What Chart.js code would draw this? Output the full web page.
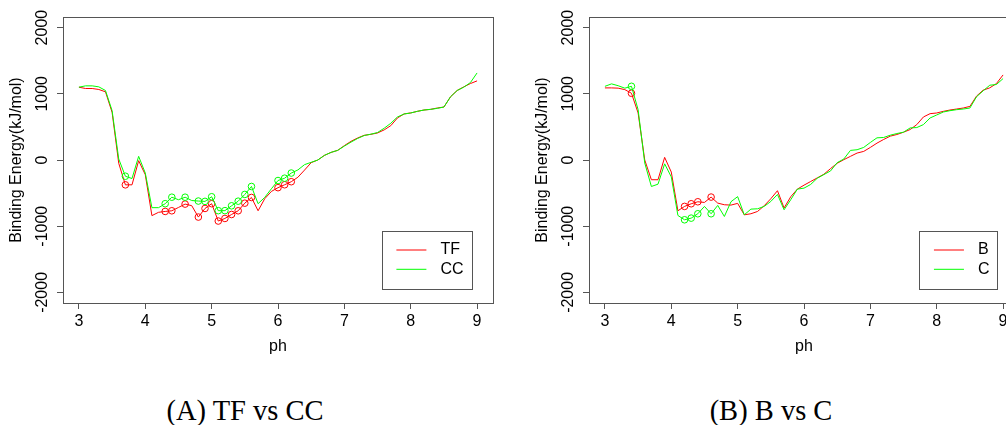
<!DOCTYPE html>
<html>
<head>
<meta charset="utf-8">
<script src="https://cdn.jsdelivr.net/npm/chart.js@4/dist/chart.umd.min.js"></script>
<style>
  html, body { margin: 0; padding: 0; background: #fff; }
  #page { position: relative; width: 1006px; height: 425px; overflow: hidden; background: #fff; }
  canvas { position: absolute; top: 0; }
  #cvA { left: 0; }
  #cvB { left: 526px; }
  .caption { position: absolute; top: 397px; width: 400px; text-align: center;
             font-family: "Liberation Serif", "DejaVu Serif", serif; font-size: 28.5px;
             line-height: 28.5px; color: #000; white-space: nowrap; }
  #capA { left: 45px; }
  #capB { left: 571px; }
</style>
</head>
<body>
<div id="page">
  <canvas id="cvA" width="500" height="370"></canvas>
  <canvas id="cvB" width="500" height="370"></canvas>
  <div class="caption" id="capA">(A) TF vs CC</div>
  <div class="caption" id="capB">(B) B vs C</div>
</div>
<script>
// pH grid shared by every series
const ph = [3.0, 3.1, 3.2, 3.3, 3.4, 3.5, 3.6, 3.7, 3.8, 3.9,
            4.0, 4.1, 4.2, 4.3, 4.4, 4.5, 4.6, 4.7, 4.8, 4.9,
            5.0, 5.1, 5.2, 5.3, 5.4, 5.5, 5.6, 5.7, 5.8, 5.9,
            6.0, 6.1, 6.2, 6.3, 6.4, 6.5, 6.6, 6.7, 6.8, 6.9,
            7.0, 7.1, 7.2, 7.3, 7.4, 7.5, 7.6, 7.7, 7.8, 7.9,
            8.0, 8.1, 8.2, 8.3, 8.4, 8.5, 8.6, 8.7, 8.8, 8.9, 9.0];

// Binding energy (kJ/mol), panel A
const tf = [1100, 1080, 1080, 1065, 1030, 720, -50, -375, -375, -10,
            -222, -840, -790, -777, -767, -717, -666, -690, -862, -732,
            -660, -922, -883, -823, -767, -652, -566, -767, -585, -475,
            -418, -374, -328, -260, -152, -40, 0, 70, 115, 146,
            217, 282, 333, 373, 388, 408, 455, 519, 635, 696,
            711, 735, 755, 765, 785, 800, 955, 1050, 1105, 1155, 1195];
const cc = [1100, 1120, 1120, 1105, 1050, 745, 15, -245, -280, 55,
            -197, -720, -720, -660, -562, -600, -562, -612, -620, -625,
            -555, -765, -765, -692, -622, -520, -400, -660, -565, -435,
            -310, -275, -197, -150, -70, -35, 0, 70, 115, 146,
            210, 270, 325, 370, 390, 415, 480, 555, 650, 695,
            710, 735, 755, 765, 780, 800, 955, 1050, 1100, 1170, 1315];
// pH values flagged with open circles, panel A
const marksA = [3.7, 4.3, 4.4, 4.6, 4.8, 4.9, 5.0, 5.1, 5.2, 5.3, 5.4, 5.5, 5.6, 6.0, 6.1, 6.2];

// Binding energy (kJ/mol), panel B
const bSeries = [1089, 1089, 1085, 1063, 1008, 711, 0, -298, -298, 40,
                 -182, -767, -701, -661, -631, -641, -560, -651, -676, -681,
                 -655, -828, -812, -777, -691, -585, -464, -725, -555, -440,
                 -380, -325, -270, -215, -130, -50, 5, 55, 105, 130,
                 190, 255, 310, 360, 385, 420, 460, 535, 650, 700,
                 710, 735, 755, 770, 785, 810, 965, 1055, 1090, 1155, 1285];
const cSeries = [1113, 1150, 1122, 1085, 1113, 761, -45, -400, -365, -58,
                 -255, -838, -903, -878, -812, -701, -812, -686, -853, -630,
                 -553, -828, -742, -737, -701, -626, -520, -752, -600, -440,
                 -425, -370, -275, -220, -165, -40, 15, 145, 155, 190,
                 265, 335, 340, 375, 400, 420, 485, 490, 535, 635,
                 680, 725, 745, 760, 770, 785, 955, 1045, 1130, 1140, 1230];
// pH values flagged with open circles, panel B
const marksB = [3.4, 4.2, 4.3, 4.4, 4.6];

// Axis ticks
const phTicks = [3, 4, 5, 6, 7, 8, 9];
const energyTicks = [-2000, -1000, 0, 1000, 2000];

const FONT = '"Liberation Sans", Arial, sans-serif';
const AXIS_GREY = '#555';

// Frame, rotated y labels, y title and the boxed legend
const decorations = {
  id: 'decorations',
  afterDraw(chart) {
    const { ctx, chartArea: a, scales: { y } } = chart;
    ctx.save();
    ctx.strokeStyle = AXIS_GREY;
    ctx.lineWidth = 1;
    ctx.strokeRect(Math.round(a.left) + 0.5, Math.round(a.top) + 0.5,
                   Math.round(a.right - a.left), Math.round(a.bottom - a.top));

    ctx.fillStyle = '#000';
    ctx.font = '16px ' + FONT;
    ctx.textAlign = 'center';
    ctx.textBaseline = 'middle';
    energyTicks.forEach(v => {
      ctx.save();
      ctx.translate(a.left - 20, y.getPixelForValue(v));
      ctx.rotate(-Math.PI / 2);
      ctx.fillText(String(v), 0, 0);
      ctx.restore();
    });

    ctx.save();
    ctx.translate(17, (a.top + a.bottom) / 2);
    ctx.rotate(-Math.PI / 2);
    ctx.fillText('Binding Energy(kJ/mol)', 0, 0);
    ctx.restore();

    // legend
    const sets = chart.data.datasets;
    const maxW = Math.max(...sets.map(d => ctx.measureText(d.label).width));
    const boxRight = a.right - 21.5;
    const boxBottom = a.bottom - 14;
    const boxTop = boxBottom - 58.3;
    const textX = boxRight - 8 - maxW;
    const lineX2 = textX - 14;
    const lineX1 = lineX2 - 30;
    const boxLeft = lineX1 - 14.5;
    ctx.strokeStyle = AXIS_GREY;
    ctx.strokeRect(Math.round(boxLeft) + 0.5, Math.round(boxTop) + 0.5,
                   Math.round(boxRight - boxLeft), Math.round(boxBottom - boxTop));
    ctx.textAlign = 'left';
    sets.forEach((d, i) => {
      const ry = boxTop + 19.3 * (i + 1);
      ctx.strokeStyle = d.borderColor;
      ctx.beginPath();
      ctx.moveTo(lineX1, ry);
      ctx.lineTo(lineX2, ry);
      ctx.stroke();
      ctx.fillStyle = '#000';
      ctx.fillText(d.label, textX, ry);
    });
    ctx.restore();
  }
};

function series(label, values, color, marks, order) {
  return {
    label,
    data: ph.map((x, i) => ({ x, y: values[i] })),
    borderColor: color,
    borderWidth: 1,
    tension: 0,
    fill: false,
    order,
    pointStyle: 'circle',
    pointRadius: c => marks.includes(ph[c.dataIndex]) ? 3.3 : 0,
    pointBorderColor: color,
    pointBackgroundColor: 'rgba(0,0,0,0)',
    pointBorderWidth: 1
  };
}

function makeChart(id, datasets) {
  return new Chart(document.getElementById(id), {
    type: 'line',
    data: { datasets },
    plugins: [decorations],
    options: {
      responsive: false,
      animation: false,
      events: [],
      layout: { padding: { top: 17, left: 0, right: 7, bottom: 0 } },
      plugins: { legend: { display: false }, tooltip: { enabled: false }, title: { display: false } },
      scales: {
        x: {
          type: 'linear',
          min: 2.76,
          max: 9.24,
          afterBuildTicks: s => { s.ticks = phTicks.map(v => ({ value: v })); },
          afterFit: s => { s.height = 67; },
          ticks: { color: '#000', font: { family: FONT, size: 16 }, padding: 3,
                   maxRotation: 0, autoSkip: false, callback: v => String(v) },
          grid: { drawOnChartArea: false, drawTicks: true, tickLength: 6, color: AXIS_GREY },
          border: { display: false },
          title: { display: true, text: 'ph', color: '#000',
                   font: { family: FONT, size: 16 }, padding: { top: 0, bottom: 13.4 } }
        },
        y: {
          type: 'linear',
          min: -2160,
          max: 2160,
          afterBuildTicks: s => { s.ticks = energyTicks.map(v => ({ value: v })); },
          afterFit: s => { s.width = 63; },
          ticks: { display: false },
          grid: { drawOnChartArea: false, drawTicks: true, tickLength: 6, color: AXIS_GREY },
          border: { display: false }
        }
      }
    }
  });
}

makeChart('cvA', [
  series('TF', tf, '#ff0000', marksA, 1),
  series('CC', cc, '#00ff00', marksA, 0)
]);
makeChart('cvB', [
  series('B', bSeries, '#ff0000', marksB, 1),
  series('C', cSeries, '#00ff00', marksB, 0)
]);
</script>
</body>
</html>
